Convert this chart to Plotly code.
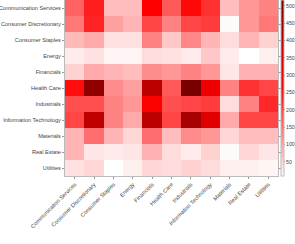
import plotly.graph_objects as go

sectors = ["Communication Services", "Consumer Discretionary", "Consumer Staples", "Energy",
           "Financials", "Health Care", "Industrials", "Information Technology",
           "Materials", "Real Estate", "Utilities"]

comm_services = [165, 233, 75, 75, 265, 174, 255, 213, 75, 113, 134]
cons_disc     = [143, 228, 104, 83, 194, 134, 194, 203, 14, 113, 143]
cons_staples  = [79, 94, 39, 39, 134, 64, 130, 83, 44, 83, 54]
energy        = [29, 39, 19, 19, 44, 39, 29, 64, 29, 9, 24]
financials    = [54, 94, 83, 75, 124, 113, 134, 113, 34, 88, 88]
health_care   = [250, 473, 124, 104, 393, 174, 517, 293, 134, 213, 194]
industrials   = [184, 184, 134, 113, 273, 184, 194, 203, 44, 134, 223]
info_tech     = [194, 383, 134, 94, 393, 194, 433, 323, 94, 194, 194]
materials     = [83, 153, 83, 49, 153, 75, 124, 113, 49, 75, 75]
real_estate   = [83, 34, 29, 34, 88, 44, 29, 54, 14, 49, 34]
utilities     = [39, 49, 9, 24, 49, 44, 54, 44, 24, 24, 19]

z = [comm_services, cons_disc, cons_staples, energy, financials, health_care,
     industrials, info_tech, materials, real_estate, utilities]

cb_ticks = [50, 100, 150, 200, 250, 300, 350, 400, 450, 500]

font = dict(family="Liberation Sans, Arial", size=5.6, color="#444444")
cbfont = dict(family="Liberation Sans, Arial", size=5.2, color="#444444")

fig = go.Figure(go.Heatmap(
    z=z, x=sectors, y=sectors,
    zmin=9, zmax=517,
    colorscale=[[0, "#ffffff"], [0.5, "#ff0000"], [1, "#7a0000"]],
    xgap=0, ygap=0,
    colorbar=dict(
        x=1.014, xanchor="left", xref="paper",
        y=0, yanchor="bottom", len=1, lenmode="fraction",
        thickness=3, outlinewidth=1, outlinecolor="#bbbbbb",
        tickvals=cb_ticks, ticks="outside", ticklen=1, tickcolor="#999999",
        tickfont=cbfont, xpad=0, ypad=0, ticklabeloverflow="allow",
    ),
))

fig.update_layout(
    width=295, height=244,
    margin=dict(l=65, r=17, t=0, b=68, autoexpand=False),
    paper_bgcolor="white", plot_bgcolor="white",
    font=font,
)
fig.update_xaxes(tickangle=-45, ticks="outside", ticklen=2, tickcolor="#999999",
                 showline=True, linecolor="#bbbbbb", linewidth=1, mirror="ticks",
                 tickfont=font, automargin=False)
fig.update_yaxes(autorange="reversed", ticks="outside", ticklen=2, tickcolor="#999999",
                 showline=True, linecolor="#bbbbbb", linewidth=1, mirror="ticks",
                 tickfont=font, automargin=False)

fig.write_html("out.html", config={"displayModeBar": False},
               post_script="document.body.style.margin='0';")
